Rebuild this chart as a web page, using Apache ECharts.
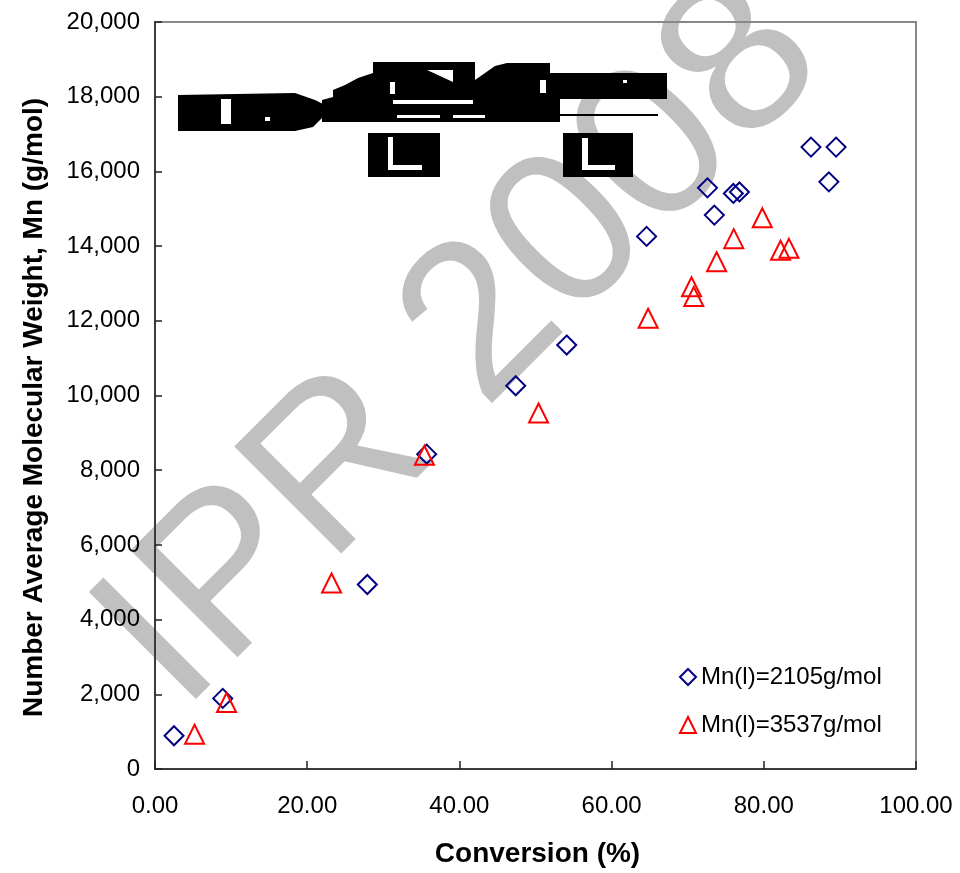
<!DOCTYPE html>
<html>
<head>
<meta charset="utf-8">
<script src="https://cdn.jsdelivr.net/npm/echarts@6/dist/echarts.min.js"></script>
<style>html,body{margin:0;padding:0;background:#fff}#c{width:960px;height:873px}</style>
</head>
<body>
<div id="c"></div>
<script>
// ---- data ----
const seriesNames = ['Mn(l)=2105g/mol', 'Mn(l)=3537g/mol'];
const conv2105 = [2.5, 8.9, 27.9, 35.7, 47.4, 54.1, 64.6, 72.6, 73.5, 76.0, 76.8, 86.2, 88.55, 89.5];
const mn2105   = [890, 1890, 4940, 8430, 10260, 11350, 14260, 15560, 14830, 15410, 15450, 16650, 15720, 16650];
const conv3537 = [5.2, 9.4, 23.2, 35.4, 50.4, 64.8, 70.5, 70.8, 73.8, 76.05, 79.8, 82.2, 83.3];
const mn3537   = [930, 1780, 4980, 8400, 9530, 12070, 12910, 12650, 13580, 14200, 14760, 13890, 13940];
const xTicks = [0, 20, 40, 60, 80, 100];
const yTicks = [0, 2000, 4000, 6000, 8000, 10000, 12000, 14000, 16000, 18000, 20000];
const xTitle = 'Conversion (%)';
const yTitle = 'Number Average Molecular Weight, Mn (g/mol)';
const watermark = 'IPR 2008';

const FONT = 'Arial, "Liberation Sans", sans-serif';
const zip = (a, b) => a.map((v, i) => [v, b[i]]);

// stray raster structure (decoration) approximated with shapes
const blk = '#000', wht = '#fff';
const deco = [
  {type:'polygon', shape:{points:[[178,95],[295,93],[315,100],[323,104],[323,117],[313,127],[295,131],[178,131]]}, style:{fill:blk}},
  {type:'polygon', shape:{points:[[322,100],[333,97],[333,90],[345,85],[358,78],[373,73],[373,62],[475,62],[475,80],[495,66],[507,63],[550,63],[550,73],[667,73],[667,99],[560,99],[560,122],[322,122]]}, style:{fill:blk}},
  {type:'rect', shape:{x:560, y:114, width:98, height:2}, style:{fill:blk}},
  {type:'rect', shape:{x:368, y:133, width:72, height:44}, style:{fill:blk}},
  {type:'rect', shape:{x:563, y:133, width:70, height:44}, style:{fill:blk}},
  {type:'rect', shape:{x:221, y:99, width:10, height:25}, style:{fill:wht}},
  {type:'rect', shape:{x:265, y:117, width:5, height:4}, style:{fill:wht}},
  {type:'rect', shape:{x:390, y:82, width:5, height:12}, style:{fill:wht}},
  {type:'polygon', shape:{points:[[427,70],[453,70],[453,82]]}, style:{fill:wht}},
  {type:'rect', shape:{x:393, y:100, width:80, height:4}, style:{fill:wht}},
  {type:'rect', shape:{x:397, y:115, width:43, height:3}, style:{fill:wht}},
  {type:'rect', shape:{x:453, y:115, width:32, height:3}, style:{fill:wht}},
  {type:'rect', shape:{x:540, y:80, width:6, height:13}, style:{fill:wht}},
  {type:'rect', shape:{x:623, y:80, width:4, height:3}, style:{fill:wht}},
  {type:'rect', shape:{x:388, y:137, width:5, height:28}, style:{fill:wht}},
  {type:'rect', shape:{x:388, y:165, width:34, height:5}, style:{fill:wht}},
  {type:'rect', shape:{x:582, y:138, width:6, height:27}, style:{fill:wht}},
  {type:'rect', shape:{x:582, y:165, width:33, height:5}, style:{fill:wht}}
].map(e => Object.assign(e, {z: 1}));

const chart = echarts.init(document.getElementById('c'), null, {renderer: 'canvas'});
chart.setOption({
  backgroundColor: '#fff',
  animation: false,
  graphic: [
    {type:'text', x:463, y:346, rotation: Math.PI/4, z: -10, silent:true,
     style:{text: watermark, font: '220px ' + FONT, fill:'#c0c0c0', align:'center', verticalAlign:'middle'}}
  ].concat(deco),
  grid: {left:155, right:44, top:22, bottom:102, show:true, borderColor:'#888', borderWidth:2, backgroundColor:'transparent'},
  xAxis: {
    type:'value', min:xTicks[0], max:xTicks[xTicks.length-1], interval:xTicks[1]-xTicks[0],
    name: xTitle, nameLocation:'middle', nameGap:85,
    nameTextStyle:{fontFamily:FONT, fontSize:28, fontWeight:'bold', color:'#000', verticalAlign:'middle', padding:[0,0,0,4]},
    axisLine:{show:true, onZero:false, lineStyle:{color:'#222', width:1.5}},
    axisTick:{show:true, inside:true, length:8, lineStyle:{color:'#222', width:1.5}},
    axisLabel:{fontFamily:FONT, fontSize:24, color:'#000', margin:25, formatter: v => v.toFixed(2)},
    splitLine:{show:false}
  },
  yAxis: {
    type:'value', min:yTicks[0], max:yTicks[yTicks.length-1], interval:yTicks[1]-yTicks[0],
    name: yTitle, nameLocation:'middle', nameGap:121,
    nameTextStyle:{fontFamily:FONT, fontSize:28, fontWeight:'bold', color:'#000', verticalAlign:'middle', padding:[0,24,0,0]},
    axisLine:{show:true, onZero:false, lineStyle:{color:'#222', width:1.5}},
    axisTick:{show:true, inside:true, length:7, lineStyle:{color:'#222', width:1.5}},
    axisLabel:{fontFamily:FONT, fontSize:24, color:'#000', margin:15,
      formatter: v => v.toString().replace(/\B(?=(\d{3})+(?!\d))/g, ',')},
    splitLine:{show:false}
  },
  legend: {
    orient:'vertical', left:674, top:660, itemGap:24, itemWidth:16, itemHeight:16,
    textStyle:{fontFamily:FONT, fontSize:24, color:'#000'},
    data: seriesNames
  },
  series: [
    {name: seriesNames[0], type:'scatter', symbol:'diamond', symbolSize:19, z:5,
     itemStyle:{color:'rgba(0,0,0,0)', borderColor:'#000080', borderWidth:2, opacity:1},
     data: zip(conv2105, mn2105)},
    {name: seriesNames[1], type:'scatter', symbol:'triangle', symbolSize:19, z:5,
     itemStyle:{color:'rgba(0,0,0,0)', borderColor:'#ff0000', borderWidth:2, opacity:1},
     data: zip(conv3537, mn3537)}
  ]
});
</script>
</body>
</html>
